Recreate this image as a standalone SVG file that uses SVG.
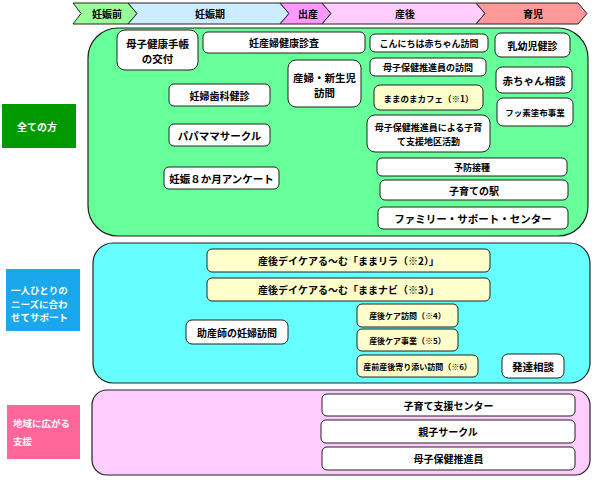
<svg xmlns="http://www.w3.org/2000/svg" width="595" height="480" viewBox="0 0 595 480">
<style>
text{font-family:"Noto Sans CJK JP","Noto Sans",sans-serif;font-weight:bold;fill:#000;text-anchor:middle;dominant-baseline:central}
.chev{stroke:#222;stroke-width:1}
.sec{stroke:#222;stroke-width:1.2}
.box{fill:#fff;stroke:#222;stroke-width:1}
.ybox{fill:#FFFFCC;stroke:#222;stroke-width:1}
.lbl{fill:#fff;text-anchor:start}
</style>
<rect width="595" height="480" fill="#fff"/>
<g id="timeline">
<g id="t1"><polygon class="chev" fill="#99FF99" points="73,3 128,3 137,13.5 128,24 73,24 81,13.5"/><text x="107" y="13.5" font-size="10">妊娠前</text></g>
<g id="t2"><polygon class="chev" fill="#CCECFF" points="128,3 280,3 289,13.5 280,24 128,24 137,13.5"/><text x="210" y="13.5" font-size="10">妊娠期</text></g>
<g id="t3"><polygon class="chev" fill="#FF99FF" points="280,3 322,3 331,13.5 322,24 280,24 289,13.5"/><text x="308" y="13.5" font-size="10">出産</text></g>
<g id="t4"><polygon class="chev" fill="#FFCCFF" points="322,3 476,3 485,13.5 476,24 322,24 331,13.5"/><text x="405" y="13.5" font-size="10">産後</text></g>
<g id="t5"><polygon class="chev" fill="#FF9999" points="476,3 578,3 587,13.5 578,24 476,24 485,13.5"/><text x="533" y="13.5" font-size="10">育児</text></g>
</g>
<g id="sections">
<rect id="sec-all" class="sec" x="88" y="28" width="500" height="208" rx="30" fill="#66FF99"/>
<rect id="sec-each" class="sec" x="93" y="243" width="497" height="140" rx="20" fill="#66FFFF"/>
<rect id="sec-local" class="sec" x="92" y="390" width="498" height="85" rx="15" fill="#FFCCFF"/>
</g>
<g id="labels">
<g id="lbl-all"><rect x="2" y="104" width="74" height="44" fill="#009900"/><text class="lbl" x="17" y="126" font-size="10">全ての方</text></g>
<g id="lbl-each"><rect x="6" y="269" width="74" height="62" fill="#1AA7EC"/><text class="lbl" x="11" y="290" font-size="9.5">一人ひとりの</text><text class="lbl" x="11" y="303.5" font-size="9.5">ニーズに合わ</text><text class="lbl" x="11" y="317" font-size="9.5">せてサポート</text></g>
<g id="lbl-local"><rect x="7" y="405" width="73" height="54" fill="#FF6699"/><text class="lbl" x="13" y="423" font-size="9.5">地域に広がる</text><text class="lbl" x="13" y="441" font-size="9.5">支援</text></g>
</g>
<g id="connectors"/>
<g id="nodes">
<g id="n1"><rect class="box" x="117" y="30" width="81" height="40" rx="8"/><text x="157.5" y="43" font-size="10.5">母子健康手帳</text><text x="157.5" y="58" font-size="10.5">の交付</text></g>
<g id="n2"><rect class="box" x="203" y="32" width="162" height="21" rx="5"/><text x="284" y="42.5" font-size="10">妊産婦健康診査</text></g>
<g id="n3"><rect class="box" x="288" y="60" width="73" height="47" rx="8"/><text x="324.5" y="77" font-size="10.5">産婦・新生児</text><text x="324.5" y="92" font-size="10.5">訪問</text></g>
<g id="n4"><rect class="box" x="169" y="84" width="101" height="22" rx="5"/><text x="219.5" y="95" font-size="10">妊婦歯科健診</text></g>
<g id="n5"><rect class="box" x="169" y="124" width="101" height="22" rx="5"/><text x="219.5" y="135" font-size="10.5">パパママサークル</text></g>
<g id="n6"><rect class="box" x="164" y="167" width="115" height="22" rx="5"/><text x="221.5" y="178" font-size="10.5">妊娠８か月アンケート</text></g>
<g id="n7"><rect class="box" x="370" y="34" width="118" height="18" rx="5"/><text x="429" y="43" font-size="9">こんにちは赤ちゃん訪問</text></g>
<g id="n8"><rect class="box" x="495" y="33" width="75" height="24" rx="6"/><text x="532.5" y="45" font-size="10">乳幼児健診</text></g>
<g id="n9"><rect class="box" x="370" y="58" width="116" height="18" rx="5"/><text x="428" y="67" font-size="9">母子保健推進員の訪問</text></g>
<g id="n10"><rect class="box" x="496" y="67" width="76" height="26" rx="6"/><text x="534" y="80" font-size="10.5">赤ちゃん相談</text></g>
<g id="n11"><rect class="ybox" x="374" y="85" width="109" height="25" rx="6"/><text x="428.5" y="97.5" font-size="8.5">ままのまカフェ（※1）</text></g>
<g id="n12"><rect class="box" x="497" y="98" width="76" height="28" rx="6"/><text x="535" y="112" font-size="8.5">フッ素塗布事業</text></g>
<g id="n13"><rect class="box" x="367" y="115" width="123" height="37" rx="8"/><text x="428.5" y="127" font-size="9">母子保健推進員による子育</text><text x="428.5" y="141" font-size="9">て支援地区活動</text></g>
<g id="n14"><rect class="box" x="377" y="158" width="190" height="18" rx="5"/><text x="472" y="167" font-size="9">予防接種</text></g>
<g id="n15"><rect class="box" x="380" y="180" width="188" height="20" rx="5"/><text x="474" y="190" font-size="10">子育ての駅</text></g>
<g id="n16"><rect class="box" x="378" y="207" width="190" height="22" rx="5"/><text x="473" y="218" font-size="10.5">ファミリー・サポート・センター</text></g>
<g id="n17"><rect class="ybox" x="207" y="249" width="283" height="23" rx="5"/><text x="348.5" y="260.5" font-size="10">産後デイケアる～む「ままリラ（※2）」</text></g>
<g id="n18"><rect class="ybox" x="207" y="278" width="283" height="23" rx="5"/><text x="348.5" y="289.5" font-size="10">産後デイケアる～む「ままナビ（※3）」</text></g>
<g id="n19"><rect class="box" x="186" y="320" width="102" height="24" rx="6"/><text x="237" y="332" font-size="10">助産師の妊婦訪問</text></g>
<g id="n20"><rect class="ybox" x="357" y="304" width="101" height="23" rx="5"/><text x="407.5" y="315.5" font-size="8">産後ケア訪問（※4）</text></g>
<g id="n21"><rect class="ybox" x="357" y="329" width="101" height="22" rx="5"/><text x="407.5" y="340" font-size="8">産後ケア事業（※5）</text></g>
<g id="n22"><rect class="ybox" x="357" y="355" width="121" height="22" rx="5"/><text x="417.5" y="366" font-size="8">産前産後寄り添い訪問（※6）</text></g>
<g id="n23"><rect class="box" x="502" y="354" width="62" height="24" rx="6"/><text x="533" y="366" font-size="10.5">発達相談</text></g>
<g id="n24"><rect class="box" x="322" y="394" width="253" height="22" rx="5"/><text x="448.5" y="405" font-size="10">子育て支援センター</text></g>
<g id="n25"><rect class="box" x="321" y="420" width="254" height="23" rx="5"/><text x="448" y="431.5" font-size="10">親子サークル</text></g>
<g id="n26"><rect class="box" x="322" y="447" width="253" height="23" rx="5"/><text x="448.5" y="458.5" font-size="10">母子保健推進員</text></g>
</g>
</svg>
